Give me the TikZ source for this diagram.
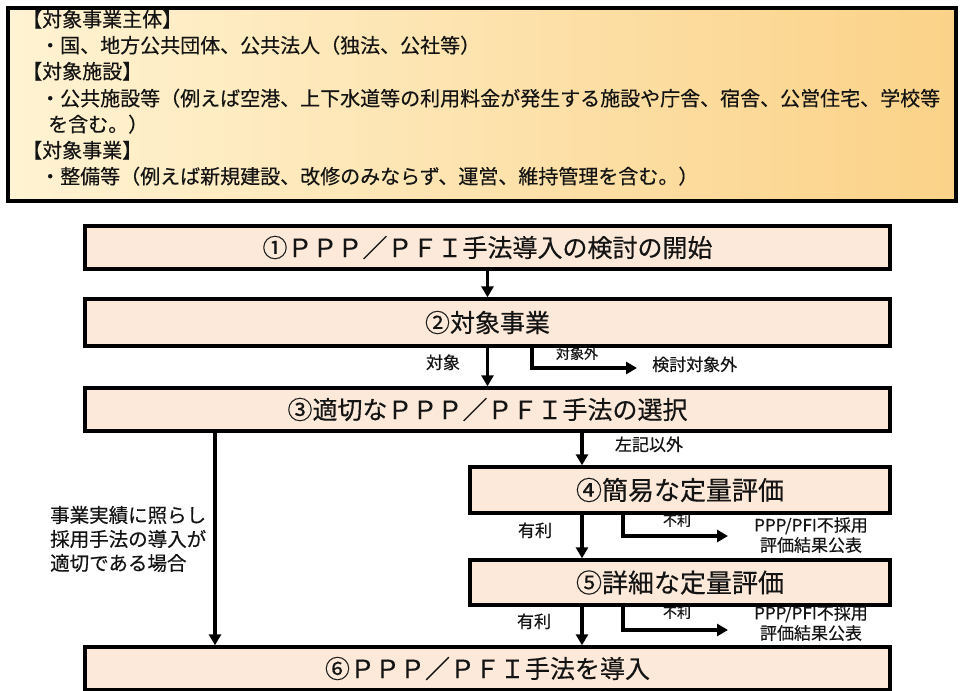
\documentclass[tikz,border=0pt]{standalone}
\usepackage{fontspec}
\setmainfont[FakeBold=0.35]{Noto Sans CJK JP}
\usetikzlibrary{arrows.meta}
\definecolor{boxfill}{HTML}{FDE9D9}
\definecolor{gradL}{HTML}{FFF3D3}
\definecolor{gradR}{HTML}{FBD288}
\definecolor{ink}{HTML}{141414}
\begin{document}
\begin{tikzpicture}[x=1pt,y=-1pt,
  flowbox/.style={draw=black, line width=3.4pt, fill=boxfill, inner sep=0pt},
  boxtext/.style={font=\fontsize{25}{29}\selectfont, text=ink, inner sep=0pt},
  bigboxtext/.style={font=\fontsize{26}{30}\selectfont, text=ink, inner sep=0pt},
  infotext/.style={font=\fontsize{20}{24}\selectfont, text=ink, inner sep=0pt, anchor=west, text height=0.88em, text depth=0.12em},
  lab/.style={font=\fontsize{17}{21}\selectfont, text=ink, inner sep=0pt, text height=0.88em, text depth=0.12em},
  smalllab/.style={font=\fontsize{14}{17}\selectfont, text=ink, inner sep=0pt, text height=0.88em, text depth=0.12em},
  twolab/.style={font=\fontsize{17}{20}\selectfont, text=ink, inner sep=0pt, align=center},
  conn/.style={line width=3.4pt, -{Triangle[length=11pt,width=12pt]}},
]
\fill[white] (0,0) rectangle (962,691);
\useasboundingbox (0,0) rectangle (962,691);

% info box
\node[draw=black, line width=3.4pt, left color=gradL, right color=gradR, inner sep=0pt,
      minimum width=948pt, minimum height=193pt] (info) at (482,104.5) {};
\node[infotext] (i1) at (22,23) {【対象事業主体】};
\node[infotext] (i2) at (40,49) {・国、地方公共団体、公共法人（独法、公社等）};
\node[infotext] (i3) at (22,75) {【対象施設】};
\node[infotext] (i4) at (40,102) {・公共施設等（例えば空港、上下水道等の利用料金が発生する施設や庁舎、宿舎、公営住宅、学校等};
\node[infotext] (i5) at (48,128) {を含む。）};
\node[infotext] (i6) at (22,154) {【対象事業】};
\node[infotext] (i7) at (40,180) {・整備等（例えば新規建設、改修のみならず、運営、維持管理を含む。）};

% flow boxes
\node[flowbox, minimum width=805pt, minimum height=43pt] (b1) at (487.5,247.5) {\tikz[baseline]\node[boxtext]{①ＰＰＰ／ＰＦＩ手法導入の検討の開始};};
\node[flowbox, minimum width=805pt, minimum height=47pt] (b2) at (487.5,322.5) {\tikz[baseline]\node[boxtext]{②対象事業};};
\node[flowbox, minimum width=805pt, minimum height=43pt] (b3) at (487.5,409.5) {\tikz[baseline]\node[boxtext]{③適切なＰＰＰ／ＰＦＩ手法の選択};};
\node[flowbox, minimum width=420pt, minimum height=46pt] (b4) at (680,490) {\tikz[baseline]\node[bigboxtext]{④簡易な定量評価};};
\node[flowbox, minimum width=420pt, minimum height=45pt] (b5) at (680,582.5) {\tikz[baseline]\node[bigboxtext]{⑤詳細な定量評価};};
\node[flowbox, minimum width=805pt, minimum height=43pt] (b6) at (487.5,668.5) {\tikz[baseline]\node[boxtext]{⑥ＰＰＰ／ＰＦＩ手法を導入};};

% helper coordinates
\coordinate (xl) at (215,0);
\coordinate (xm) at (582,0);
\coordinate (s1) at (532,0);
\coordinate (e1) at (637,368);
\coordinate (s4) at (623,0);
\coordinate (e4) at (728,536);
\coordinate (e5) at (728,630);

% connectors
\draw[conn] (b1.south) -- (b2.north);
\draw[conn] (b2.south) -- (b3.north);
\draw[conn] (b2.south -| s1) |- (e1);
\draw[conn] (b3.south -| xl) -- (b6.north -| xl);
\draw[conn] (b3.south -| xm) -- (b4.north -| xm);
\draw[conn] (b4.south -| xm) -- (b5.north -| xm);
\draw[conn] (b4.south -| s4) |- (e4);
\draw[conn] (b5.south -| xm) -- (b6.north -| xm);
\draw[conn] (b5.south -| s4) |- (e5);

% labels
\node[lab] (l1) at (443,365) {対象};
\node[smalllab] (l2) at (577,355) {対象外};
\node[lab, anchor=west] (l3) at (652,367) {検討対象外};
\node[lab] (l4) at (649,447) {左記以外};
\node[lab] (l5) at (535,533) {有利};
\node[smalllab] (l6) at (677,522) {不利};
\node[twolab] (l7) at (811,535) {PPP/PFI不採用\\評価結果公表};
\node[lab] (l8) at (534,624) {有利};
\node[smalllab] (l9) at (677,614) {不利};
\node[twolab] (l10) at (811,623) {PPP/PFI不採用\\評価結果公表};
\node[anchor=west, align=left, inner sep=0pt, text=ink, font=\fontsize{19.5}{24}\selectfont] (l11) at (50,539) {事業実績に照らし\\採用手法の導入が\\適切である場合};
\end{tikzpicture}
\end{document}
